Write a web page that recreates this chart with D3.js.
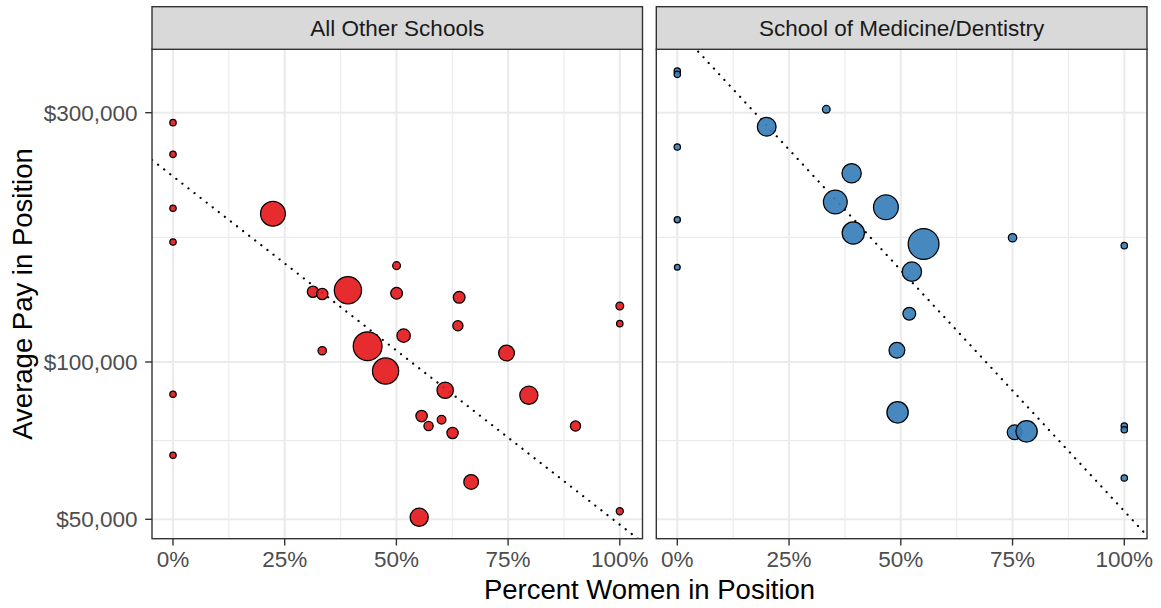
<!DOCTYPE html>
<html>
<head>
<meta charset="utf-8">
<script src="https://cdn.jsdelivr.net/npm/d3@7"></script>
<style>
  html, body { margin: 0; padding: 0; background: #fff; }
  svg { display: block; font-family: "Liberation Sans", Arial, Helvetica, sans-serif; }
</style>
</head>
<body>
<svg id="chart" width="1161" height="608"></svg>
<script>
// ---- data ----
const panelNames = ["All Other Schools", "School of Medicine/Dentistry"];

const otherPct = [0, 0, 0, 0, 0, 0,
  0.2237, 0.3132, 0.334, 0.3915, 0.5004, 0.5004, 0.4356, 0.334, 0.4758,
  0.6405, 0.6376, 0.5161, 0.7465, 0.6092, 0.7964, 0.5564, 0.572, 0.6011,
  0.6257, 0.9009, 0.6673, 0.551, 1, 1, 1];
const otherPay = [287100, 249700, 196900, 169700, 86750, 66300,
  192200, 136300, 134960, 137200, 152900, 135400, 107200, 105100, 96100,
  133000, 117300, 112300, 104000, 88300, 86350, 78800, 75400, 77530,
  73130, 75400, 58950, 50440, 128000, 118400, 51800];
const otherN = [1, 1, 1, 1, 1, 1,
  11.7, 2.7, 2.7, 14, 1.4, 2.9, 15.6, 1.6, 13,
  2.9, 2.25, 3.7, 5, 5.4, 6.5, 2.75, 1.9, 1.7,
  2.7, 2.25, 4.4, 6.5, 1.4, 1, 1.2];

const medPct = [0, 0, 0, 0, 0,
  0.3333, 0.2, 0.39, 0.3535, 0.4667, 0.3937, 0.551, 0.5248, 0.519,
  0.4913, 0.4928, 0.75, 0.7546, 0.7814, 1, 1, 1, 1];
const medPay = [360600, 355300, 257900, 187200, 151800,
  304500, 282000, 229700, 202400, 197700, 176500, 168200, 148900, 123700,
  105300, 80100, 172900, 73350, 73660, 167000, 75400, 74180, 59980];
const medN = [1, 1, 1, 0.95, 0.85,
  1.4, 6.9, 7.3, 10.8, 11.7, 9.5, 17.7, 7.3, 3.4,
  5, 8.8, 1.6, 4.4, 8.8, 1, 1, 1, 1];

// dotted linear-fit lines (on log pay), endpoints at the panel edges
const otherTrendPct = [-0.047, 1.0508];
const otherTrendPay = [243600, 45170];
const medTrendPct = [-0.047, 1.0508];
const medTrendPay = [479200, 46520];

const payTicks = [50000, 100000, 300000];
const payTickLabels = ["$50,000", "$100,000", "$300,000"];
const payMinor = [70711, 173205];
const pctTicks = [0, 0.25, 0.5, 0.75, 1];
const pctTickLabels = ["0%", "25%", "50%", "75%", "100%"];
const pctMinor = [0.125, 0.375, 0.625, 0.875];

const fills = ["#E41A1C", "#377EB8"];

// ---- layout ----
const svg = d3.select("#chart");
const pTop = 49.3, pBottom = 538.7, stripTop = 6.7;
const panelX = [[152, 642.5], [656.3, 1147]];

const y = d3.scaleLog().domain([45900, 396700]).range([pBottom, pTop]);
const r = d3.scaleSqrt().domain([0, 18]).range([0, 3.8 * Math.sqrt(18)]);

const panelsData = [
  { pct: otherPct, pay: otherPay, n: otherN, tp: otherTrendPct, tv: otherTrendPay },
  { pct: medPct, pay: medPay, n: medN, tp: medTrendPct, tv: medTrendPay }
];

panelsData.forEach((pd, i) => {
  const [x0, x1] = panelX[i];
  const x = d3.scaleLinear().domain([-0.047, 1.0508]).range([x0, x1]);
  const g = svg.append("g");

  const clipId = "clip" + i;
  svg.append("clipPath").attr("id", clipId)
    .append("rect").attr("x", x0).attr("y", pTop).attr("width", x1 - x0).attr("height", pBottom - pTop);

  g.append("rect").attr("x", x0).attr("y", pTop).attr("width", x1 - x0).attr("height", pBottom - pTop)
    .attr("fill", "#fff");

  // minor grid
  g.selectAll(".ymin").data(payMinor).join("line")
    .attr("x1", x0).attr("x2", x1).attr("y1", d => y(d)).attr("y2", d => y(d))
    .attr("stroke", "#EBEBEB").attr("stroke-width", 1.1);
  g.selectAll(".xmin").data(pctMinor).join("line")
    .attr("y1", pTop).attr("y2", pBottom).attr("x1", d => x(d)).attr("x2", d => x(d))
    .attr("stroke", "#EBEBEB").attr("stroke-width", 1.1);
  // major grid
  g.selectAll(".ymaj").data(payTicks).join("line")
    .attr("x1", x0).attr("x2", x1).attr("y1", d => y(d)).attr("y2", d => y(d))
    .attr("stroke", "#EBEBEB").attr("stroke-width", 2.1);
  g.selectAll(".xmaj").data(pctTicks).join("line")
    .attr("y1", pTop).attr("y2", pBottom).attr("x1", d => x(d)).attr("x2", d => x(d))
    .attr("stroke", "#EBEBEB").attr("stroke-width", 2.1);

  // trend line
  const trend = pd.tp.map((p, k) => [p, pd.tv[k]]);
  g.append("path").datum(trend)
    .attr("clip-path", `url(#${clipId})`)
    .attr("d", d3.line().x(d => x(d[0])).y(d => y(d[1])))
    .attr("fill", "none").attr("stroke", "#000").attr("stroke-width", 2.2)
    .attr("stroke-linecap", "round")
    .attr("stroke-dasharray", "0.1 7.6");

  // points
  const pts = pd.pct.map((p, k) => ({ p, v: pd.pay[k], n: pd.n[k] }));
  g.append("g").attr("clip-path", `url(#${clipId})`)
    .selectAll("circle").data(pts).join("circle")
    .attr("cx", d => x(d.p)).attr("cy", d => y(d.v)).attr("r", d => Math.max(1, r(d.n) - 0.6))
    .attr("fill", fills[i]).attr("fill-opacity", 0.92)
    .attr("stroke", "#000").attr("stroke-width", 1.25);

  // panel border
  g.append("rect").attr("x", x0).attr("y", pTop).attr("width", x1 - x0).attr("height", pBottom - pTop)
    .attr("fill", "none").attr("stroke", "#333333").attr("stroke-width", 1.4);

  // strip
  g.append("rect").attr("x", x0).attr("y", stripTop).attr("width", x1 - x0).attr("height", pTop - stripTop)
    .attr("fill", "#D9D9D9").attr("stroke", "#333333").attr("stroke-width", 1.4);
  g.append("text").attr("x", (x0 + x1) / 2).attr("y", 35.7)
    .attr("text-anchor", "middle").attr("font-size", 22.5).attr("fill", "#1A1A1A")
    .text(panelNames[i]);

  // x ticks
  g.selectAll(".xt").data(pctTicks).join("line")
    .attr("x1", d => x(d)).attr("x2", d => x(d)).attr("y1", pBottom).attr("y2", pBottom + 6.8)
    .attr("stroke", "#333333").attr("stroke-width", 1.4);
  g.selectAll(".xl").data(pctTicks).join("text")
    .attr("x", d => x(d)).attr("y", 567.3).attr("text-anchor", "middle")
    .attr("font-size", 22.5).attr("fill", "#4D4D4D")
    .text((d, k) => pctTickLabels[k]);

  if (i === 0) {
    g.selectAll(".yt").data(payTicks).join("line")
      .attr("x1", x0 - 6.8).attr("x2", x0).attr("y1", d => y(d)).attr("y2", d => y(d))
      .attr("stroke", "#333333").attr("stroke-width", 1.4);
    g.selectAll(".yl").data(payTicks).join("text")
      .attr("x", 137.5).attr("y", d => y(d)).attr("dy", "0.36em").attr("text-anchor", "end")
      .attr("font-size", 22.5).attr("fill", "#4D4D4D")
      .text((d, k) => payTickLabels[k]);
  }
});

// axis titles
svg.append("text").attr("x", (152 + 1147) / 2).attr("y", 599)
  .attr("text-anchor", "middle").attr("font-size", 27.5).attr("fill", "#000")
  .text("Percent Women in Position");
svg.append("text").attr("transform", `translate(32,${(pTop + pBottom) / 2}) rotate(-90)`)
  .attr("text-anchor", "middle").attr("font-size", 27.5).attr("fill", "#000")
  .text("Average Pay in Position");
</script>
</body>
</html>
